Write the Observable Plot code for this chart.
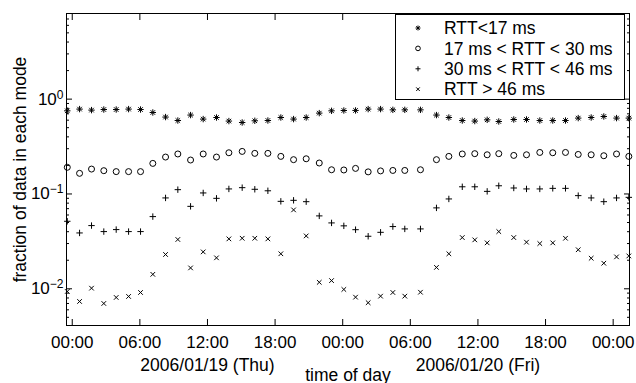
<!DOCTYPE html>
<html><head><meta charset="utf-8">
<script src="https://cdn.jsdelivr.net/npm/d3@7"></script>
<script src="https://cdn.jsdelivr.net/npm/@observablehq/plot@0.6"></script>
<style>
body{margin:0;background:#fff}
#chart{position:relative;width:636px;height:383px}
</style>
</head><body><div id="chart"></div>
<script>
// ---- data (hours after 2006/01/19 00:00) ----
const hours = [-0.44,0.65,1.71,2.80,3.90,5.00,6.06,7.15,8.28,9.37,10.50,11.62,12.80,13.90,15.08,16.20,17.36,18.51,19.64,20.76,21.92,23.01,24.10,25.14,26.26,27.36,28.45,29.51,30.90,32.32,33.42,34.61,35.72,36.82,37.85,39.18,40.31,41.49,42.64,43.77,44.90,46.05,47.17,48.30,49.39];
const rttLt17 = [0.753,0.785,0.766,0.777,0.777,0.785,0.777,0.723,0.647,0.595,0.679,0.616,0.640,0.587,0.567,0.591,0.595,0.640,0.616,0.640,0.712,0.753,0.759,0.760,0.785,0.785,0.771,0.771,0.771,0.679,0.640,0.595,0.587,0.605,0.581,0.610,0.610,0.595,0.595,0.595,0.631,0.640,0.656,0.631,0.631];
const rtt17to30 = [0.191,0.165,0.183,0.176,0.172,0.172,0.172,0.210,0.245,0.264,0.228,0.264,0.245,0.272,0.281,0.268,0.268,0.249,0.230,0.235,0.212,0.180,0.179,0.186,0.171,0.175,0.177,0.177,0.180,0.230,0.249,0.264,0.266,0.259,0.266,0.255,0.259,0.274,0.272,0.274,0.261,0.259,0.253,0.264,0.249];
const rtt30to46 = [0.0515,0.0388,0.0464,0.0401,0.0421,0.0401,0.0401,0.0577,0.0908,0.111,0.0740,0.1025,0.0899,0.113,0.1165,0.112,0.108,0.0836,0.0857,0.0829,0.0587,0.0495,0.0461,0.042,0.0358,0.0394,0.0453,0.0428,0.0428,0.0713,0.0886,0.119,0.119,0.1065,0.122,0.1156,0.113,0.113,0.1146,0.1146,0.0960,0.0908,0.0829,0.0908,0.0921];
const rttGt46 = [0.00937,0.00735,0.01015,0.0070,0.0081,0.0083,0.00914,0.0142,0.0230,0.0331,0.0166,0.0245,0.0212,0.0336,0.0341,0.0341,0.0336,0.0234,0.0679,0.0361,0.0117,0.0122,0.00984,0.00816,0.00713,0.00836,0.00914,0.00836,0.0092,0.0168,0.0234,0.0347,0.0328,0.0305,0.0401,0.0347,0.0310,0.0300,0.0305,0.0341,0.0258,0.0210,0.0186,0.0217,0.0222];
const seriesNames = ["RTT<17 ms", "17 ms < RTT < 30 ms", "30 ms < RTT < 46 ms", "RTT > 46 ms"];
const xTickHours = [0,6,12,18,24,30,36,42,48];
const dayLabelHours = [12, 36];
const dayLabels = ["2006/01/19 (Thu)", "2006/01/20 (Fri)"];
const yMajor = [0.01, 0.1, 1];
const yMinor = [0.005,0.006,0.007,0.008,0.009,0.02,0.03,0.04,0.05,0.06,0.07,0.08,0.09,0.2,0.3,0.4,0.5,0.6,0.7,0.8,0.9,2,3,4,5,6,7,8];
const xDomainHours = [-0.51, 49.45];
const yDomain = [0.0041, 8];
const yTitle = "fraction of data in each mode";
const xTitle = "time of day";

// ---- helpers ----
const base = Date.UTC(2006, 0, 19);
const toDate = h => new Date(base + h * 3600000);
const rows = vals => hours.map((h, i) => ({t: toDate(h), v: vals[i]}));
const fmt = d3.utcFormat("%H:%M");

const starSym = {draw(c, size){const r=Math.sqrt(size/Math.PI), d=r*Math.SQRT1_2;
  c.moveTo(-r,0);c.lineTo(r,0);c.moveTo(0,-r);c.lineTo(0,r);
  c.moveTo(-d,-d);c.lineTo(d,d);c.moveTo(-d,d);c.lineTo(d,-d);}};
const plusSym = {draw(c, size){const r=Math.sqrt(size/Math.PI);
  c.moveTo(-r,0);c.lineTo(r,0);c.moveTo(0,-r);c.lineTo(0,r);}};
const crossSym = {draw(c, size){const r=Math.sqrt(size/Math.PI);
  c.moveTo(-r,-r);c.lineTo(r,r);c.moveTo(-r,r);c.lineTo(r,-r);}};
const circleSym = {draw(c, size){const r=Math.sqrt(size/Math.PI); c.moveTo(r,0); c.arc(0,0,r,0,2*Math.PI);}};

const styles = [
  {sym: starSym, r: 3.2},
  {sym: "circle", r: 3.0, legendSym: circleSym},
  {sym: plusSym, r: 3.2},
  {sym: crossSym, r: 2.3}
];
const allSeries = [rttLt17, rtt17to30, rtt30to46, rttGt46];

const xTicks = xTickHours.map(toDate);
const font = "Liberation Sans, Arial, Helvetica, sans-serif";
const FS = 17.5;

const M = {top: 13, right: 7, bottom: 58, left: 66};

const plot = Plot.plot({
  width: 636, height: 383,
  marginTop: M.top, marginRight: M.right, marginBottom: M.bottom, marginLeft: M.left,
  style: {fontFamily: font, fontSize: FS + "px", background: "white", color: "black", overflow: "visible"},
  x: {type: "utc", domain: xDomainHours.map(toDate)},
  y: {type: "log", domain: yDomain},
  marks: [
    Plot.frame({stroke: "black", strokeWidth: 1}),
    // ticks (inward)
    Plot.axisX(xTicks, {anchor: "bottom", tickSize: -6, tickFormat: () => "", label: null}),
    Plot.axisX(xTicks, {anchor: "top", tickSize: -6, tickFormat: () => "", label: null}),
    Plot.axisY(yMajor, {anchor: "left", tickSize: -6, tickFormat: () => "", label: null}),
    Plot.axisY(yMajor, {anchor: "right", tickSize: -6, tickFormat: () => "", label: null}),
    Plot.axisY(yMinor, {anchor: "left", tickSize: -3, tickFormat: () => "", label: null}),
    Plot.axisY(yMinor, {anchor: "right", tickSize: -3, tickFormat: () => "", label: null}),
    // tick labels
    Plot.axisX(xTicks, {anchor: "bottom", tickSize: 0, tickPadding: 10, tickFormat: fmt, label: null, fontSize: 17}),
    Plot.axisY(yMajor, {anchor: "left", tickSize: 0, tickPadding: 3, tickFormat: d => "10^" + Math.round(Math.log10(d)), label: null, fontSize: 17}),
    Plot.text(dayLabelHours.map(toDate), {x: d => d, frameAnchor: "bottom", dy: 45, lineAnchor: "bottom", textAnchor: "middle", text: (d, i) => dayLabels[i], fontSize: FS}),
    Plot.text([xTitle], {frameAnchor: "bottom", dy: 55, lineAnchor: "bottom", textAnchor: "middle", text: d => d, fontSize: FS}),
    Plot.text([yTitle], {frameAnchor: "left", dx: -41, rotate: -90, lineAnchor: "bottom", textAnchor: "middle", text: d => d, fontSize: FS}),
    // data
    ...allSeries.map((vals, k) => Plot.dot(rows(vals), {
      x: "t", y: "v", symbol: styles[k].sym, r: styles[k].r,
      fill: "none", stroke: "black", strokeWidth: 1
    }))
  ]
});

document.getElementById("chart").appendChild(plot);

// superscripts on the y tick labels
const ns = "http://www.w3.org/2000/svg";
plot.querySelectorAll('g[aria-label="y-axis tick label"] text').forEach(t => {
  const m = t.textContent.match(/^10\^(.+)$/);
  if (!m) return;
  t.textContent = "";
  const a = document.createElementNS(ns, "tspan"); a.textContent = "10"; t.appendChild(a);
  const b = document.createElementNS(ns, "tspan"); b.textContent = m[1].replace("-", "\u2212");
  b.setAttribute("dy", "-0.5em"); b.setAttribute("font-size", "12"); t.appendChild(b);
});

// legend (inside the frame, top-right)
const svg = d3.select(plot);
const lg = svg.append("g").attr("font-family", font).attr("font-size", FS).attr("text-anchor", "start");
const lx0 = 636 - M.right - 5 - 229, ly0 = M.top + 1;
lg.append("rect").attr("x", lx0 + 0.5).attr("y", ly0 + 0.5).attr("width", 229).attr("height", 85)
  .attr("fill", "white").attr("stroke", "black");
seriesNames.forEach((name, k) => {
  const cy = ly0 + 14 + k * 20.4;
  const p = d3.path();
  const s = styles[k].legendSym || styles[k].sym;
  const lr = styles[k].r * 0.78;
  s.draw(p, lr * lr * Math.PI);
  lg.append("path").attr("d", p.toString()).attr("transform", `translate(${lx0 + 23},${cy})`)
    .attr("fill", "none").attr("stroke", "black");
  lg.append("text").attr("x", lx0 + 49).attr("y", cy).attr("dy", "0.35em").attr("text-anchor", "start").text(name);
});
</script>
</body></html>
